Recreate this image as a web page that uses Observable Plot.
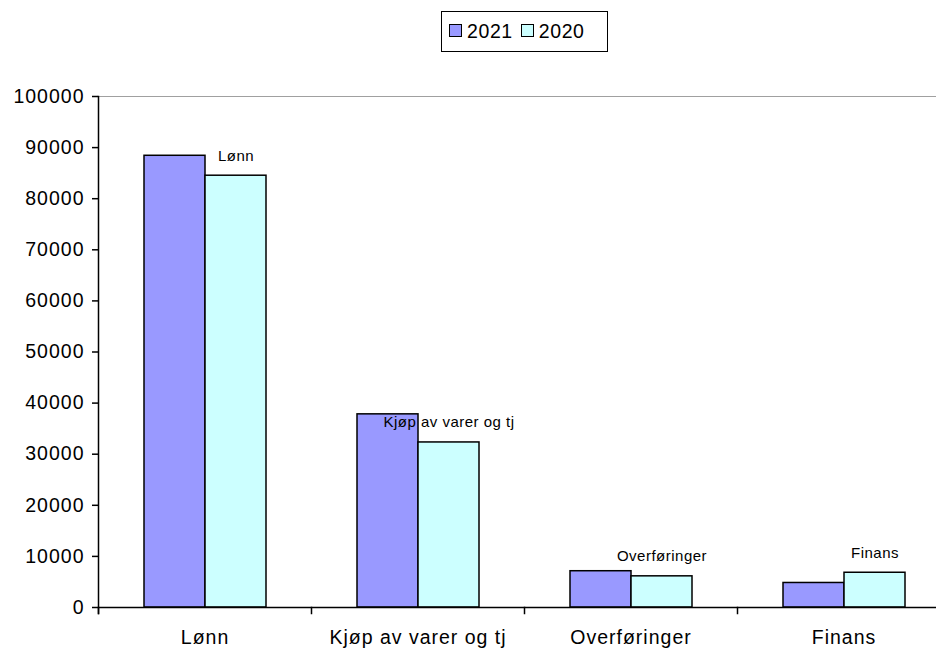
<!DOCTYPE html>
<html>
<head>
<meta charset="utf-8">
<script src="https://cdn.jsdelivr.net/npm/d3@7"></script>
<script src="https://cdn.jsdelivr.net/npm/@observablehq/plot@0.6"></script>
<style>
  html, body { margin: 0; padding: 0; background: #fff; overflow: hidden; }
  #wrap { position: relative; width: 936px; height: 650px; font-family: Arial, "Liberation Sans", sans-serif; }
  #legend { position: absolute; left: 441px; top: 11px; width: 160px; height: 39px; border: 1.5px solid #000; padding-left: 5px;
            font-size: 19.5px; letter-spacing: 0.6px; color: #000; background: #fff; line-height: 39px; white-space: nowrap; }
  #chart { position: absolute; left: 0; top: 0; }
  g[aria-label="y-axis tick label"] text, g[aria-label="fx-axis tick label"] text { letter-spacing: 1px; }
  g[aria-label="text"] text { letter-spacing: 0.5px; }
</style>
</head>
<body>
<div id="wrap">
  <div id="chart"></div>
  <div id="legend"></div>
</div>
<script>
const categories = ["Lønn", "Kjøp av varer og tj", "Overføringer", "Finans"];
const series = ["2021", "2020"];
const values2021 = [88400, 37800, 7100, 4800];
const values2020 = [84500, 32300, 6100, 6800];
const barLabels = ["Lønn", "Kjøp av varer og tj", "Overføringer", "Finans"];
const yTicks = [0, 10000, 20000, 30000, 40000, 50000, 60000, 70000, 80000, 90000, 100000];
const colors = ["#9999FF", "#CCFFFF"];

const rows = [];
categories.forEach((c, i) => {
  rows.push({category: c, year: "2021", value: values2021[i]});
  rows.push({category: c, year: "2020", value: values2020[i]});
});
const labelRows = categories.map((c, i) => ({category: c, year: "2020", value: values2020[i], label: barLabels[i]}));

const W = 936, H = 650, mTop = 96, mBottom = 43, mLeft = 97;
const innerH = H - mTop - mBottom;

const chart = Plot.plot({
  width: W,
  height: H,
  marginTop: mTop,
  marginBottom: mBottom,
  marginLeft: mLeft,
  marginRight: 0,
  style: {fontFamily: "Arial, 'Liberation Sans', sans-serif", color: "#000", background: "transparent"},
  fx: {domain: categories, padding: 0, range: [mLeft, 950], label: null},
  x: {domain: series, paddingInner: 0, paddingOuter: 0.72, axis: null},
  y: {domain: [0, 100000], label: null},
  color: {domain: series, range: colors},
  marks: [
    Plot.ruleY([100000], {stroke: "#a0a0a0", strokeWidth: 1.2}),
    Plot.barY(rows, {fx: "category", x: "year", y: "value", fill: "year", stroke: "#000", strokeWidth: 1.5}),
    Plot.ruleY([0], {stroke: "#000", strokeWidth: 1.5}),
    Plot.frame({anchor: "left", stroke: "#000", strokeWidth: 1.5, insetBottom: -6, facetAnchor: "left"}),
    Plot.frame({anchor: "left", stroke: "#000", strokeWidth: 1.5, insetTop: innerH, insetBottom: -6}),
    Plot.text(labelRows, {fx: "category", x: "year", y: "value", text: "label", dy: -20, fontSize: 15, fill: "#000"}),
    Plot.axisY(yTicks, {tickSize: 6, tickPadding: 8, fontSize: 19.5, tickFormat: "d", strokeWidth: 1.5, label: null}),
    Plot.axisFx({anchor: "bottom", tickSize: 0, tickPadding: 23, fontSize: 19.5, label: null})
  ]
});
document.getElementById("chart").appendChild(chart);

const legend = document.getElementById("legend");
series.forEach((s, i) => {
  const sw = document.createElement("span");
  sw.style.cssText = `display:inline-block;width:11px;height:11px;border:1.2px solid #000;background:${colors[i]};margin-left:${i ? 8 : 2}px;margin-right:5px;vertical-align:middle;position:relative;top:-2px;`;
  const t = document.createElement("span");
  t.textContent = s;
  legend.appendChild(sw);
  legend.appendChild(t);
});
</script>
</body>
</html>
